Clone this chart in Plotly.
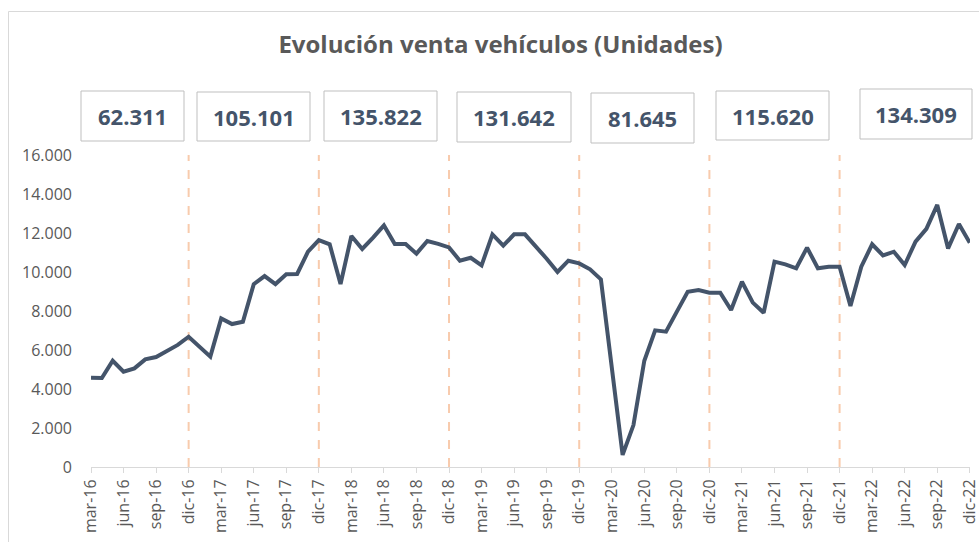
import plotly.graph_objects as go

# ---------------- data ----------------
years = ["16", "17", "18", "19", "20", "21", "22"]
month_names = ["ene", "feb", "mar", "abr", "may", "jun", "jul", "ago", "sep", "oct", "nov", "dic"]

sales_2016 = [4580, 4560, 5450, 4890, 5060, 5520, 5640, 5950, 6260, 6680]  # mar..dic
sales_2017 = [6170, 5660, 7620, 7330, 7450, 9380, 9790, 9380, 9880, 9900, 11040, 11640]
sales_2018 = [11420, 9380, 11850, 11180, 11760, 12390, 11440, 11440, 10940, 11590, 11440, 11260]
sales_2019 = [10580, 10730, 10340, 11930, 11350, 11930, 11930, 11330, 10680, 10000, 10580, 10440]
sales_2020 = [10140, 9620, 5000, 620, 2150, 5450, 7010, 6940, 7970, 8990, 9080, 8940]
sales_2021 = [8940, 8050, 9500, 8430, 7910, 10530, 10390, 10190, 11250, 10190, 10270, 10270]
sales_2022 = [8260, 10270, 11420, 10850, 11040, 10360, 11560, 12210, 13440, 11210, 12460, 11500]

annual_totals = ["62.311", "105.101", "135.822", "131.642", "81.645", "115.620", "134.309"]

tick_labels = ["mar-16", "jun-16", "sep-16", "dic-16", "mar-17", "jun-17", "sep-17", "dic-17",
               "mar-18", "jun-18", "sep-18", "dic-18", "mar-19", "jun-19", "sep-19", "dic-19",
               "mar-20", "jun-20", "sep-20", "dic-20", "mar-21", "jun-21", "sep-21", "dic-21",
               "mar-22", "jun-22", "sep-22", "dic-22"]

sales = sales_2016 + sales_2017 + sales_2018 + sales_2019 + sales_2020 + sales_2021 + sales_2022
months = [f"{m}-16" for m in month_names[2:]] + [f"{m}-{y}" for y in years[1:] for m in month_names]
x_idx = list(range(len(sales)))
tick_vals = [months.index(t) for t in tick_labels]
dec_idx = [months.index(f"dic-{y}") for y in years[:-1]]

# ---------------- layout helpers ----------------
W, H = 979, 542
L, R, T, B = 91, 9, 155, 75
PW, PH = W - L - R, H - T - B


def px(x):
    return (x - L) / PW


def py(y):
    return (H - B - y) / PH


box_px = [(81, 91, 184, 141), (197, 92, 310, 141), (324, 91, 437, 141), (457, 92, 571, 142),
          (591, 93, 694, 143), (716, 91, 829, 140), (860, 89, 972, 139)]

fig = go.Figure()
fig.add_trace(go.Scatter(x=x_idx, y=sales, mode="lines",
                         line=dict(color="#44546A", width=4), hoverinfo="y",
                         customdata=months, cliponaxis=False))

shapes = []
for d in dec_idx:
    shapes.append(dict(type="line", xref="x", yref="y", x0=d, x1=d, y0=0, y1=16000,
                       line=dict(color="#F8CBAD", width=2, dash="dash"), layer="below"))

annotations = []
for (x0, y0, x1, y1), txt in zip(box_px, annual_totals):
    shapes.append(dict(type="rect", xref="paper", yref="paper",
                       x0=px(x0), x1=px(x1), y0=py(y1), y1=py(y0),
                       line=dict(color="#BFBFBF", width=1), fillcolor="white"))
    annotations.append(dict(xref="paper", yref="paper", x=px((x0 + x1) / 2), y=py((y0 + y1) / 2),
                            text=f"<b>{txt}</b>", showarrow=False, xanchor="center", yanchor="middle",
                            font=dict(family="Open Sans", size=22, color="#44546A")))

# outer chart border
shapes.append(dict(type="rect", xref="paper", yref="paper",
                   x0=px(8.5), x1=px(990), y0=py(560), y1=py(11.5),
                   line=dict(color="#D9D9D9", width=1), fillcolor="rgba(0,0,0,0)"))

fig.update_layout(
    width=W, height=H,
    margin=dict(l=L, r=R, t=T, b=B, autoexpand=False),
    paper_bgcolor="white", plot_bgcolor="white",
    separators=",.",
    showlegend=False,
    title=dict(text="<b>Evolución venta vehículos (Unidades)</b>", x=500.5 / W, xref="container",
               y=1 - 45 / H, yref="container", xanchor="center", yanchor="middle",
               font=dict(family="Open Sans", size=24, color="#595959"), automargin=False),
    xaxis=dict(range=[0, len(sales) - 1 + 0.02], tickmode="array", tickvals=tick_vals, ticktext=tick_labels,
               tickangle=-90, showgrid=False, zeroline=False, showline=True, linecolor="#D9D9D9",
               linewidth=1, ticks="outside", ticklen=5, tickcolor="#D9D9D9",
               ticklabeloverflow="allow", automargin=False,
               tickfont=dict(family="Open Sans", size=16, color="#595959")),
    yaxis=dict(range=[0, 16000], tickmode="array", tickvals=list(range(0, 16001, 2000)),
               tickformat=",d", showgrid=False, zeroline=False, showline=False,
               ticks="", ticklabelstandoff=18, automargin=False,
               tickfont=dict(family="Open Sans", size=16, color="#595959")),
    shapes=shapes,
    annotations=annotations,
)

fig.write_html("out.html", config={"displayModeBar": False},
               post_script="document.body.style.margin='0';document.body.style.overflow='hidden';")
